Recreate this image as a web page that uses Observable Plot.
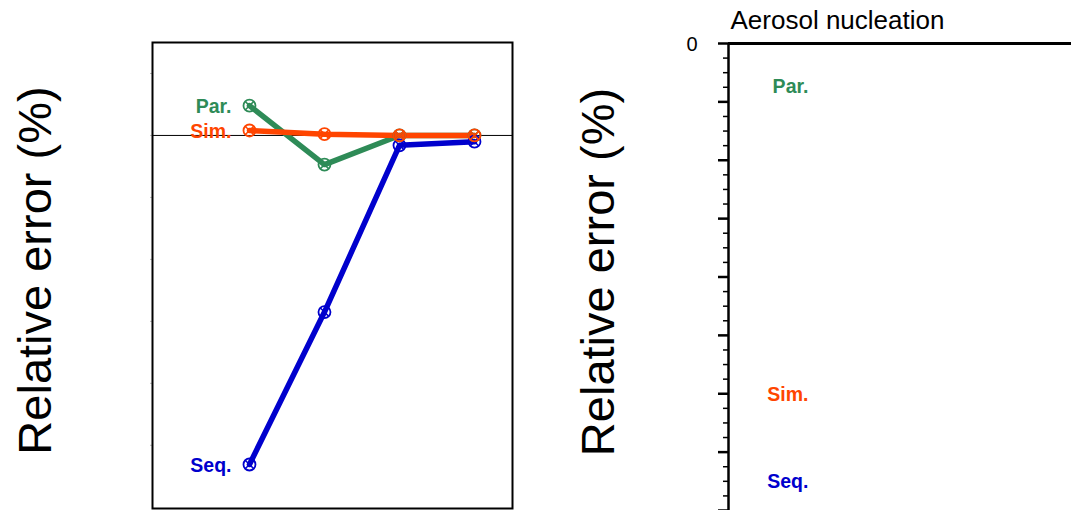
<!DOCTYPE html>
<html>
<head>
<meta charset="utf-8">
<script src="https://cdn.jsdelivr.net/npm/d3@7"></script>
<script src="https://cdn.jsdelivr.net/npm/@observablehq/plot@0.6"></script>
<style>
  html, body { margin: 0; padding: 0; background: #fff; overflow: hidden; }
  #wrap { display: flex; width: 1071px; height: 510px; }
  svg { display: block; }
</style>
</head>
<body>
<div id="wrap"></div>
<script>
// ---- data ----
const seriesNames = ["Par.", "Seq.", "Sim."];
const seriesColors = ["#2e8b57", "#0000cd", "#ff4500"];
const xSteps = [1, 2, 3, 4];
const parValues = [0.48, -0.47, 0.0, 0.0];
const seqValues = [-5.31, -2.85, -0.16, -0.1];
const simValues = [0.08, 0.02, 0.0, 0.0];
const leftTicks = [1, 0, -1, -2, -3, -4, -5];

const rightMajorTicks = [0, -1, -2, -3, -4, -5, -6, -7, -8];
const rightMinorTicks = d3.range(-8, 0.001, 0.25).filter(v => !Number.isInteger(v));
const rightTickLabels = [{y: 0, label: "0"}];
const rightLabelX = [0.233, 0.233, 0.233];
const rightLabelY = [-0.74, -7.5, -6.01];
const titleText = "Aerosol nucleation";
const yLabel = "Relative error (%)";

const font = "'Liberation Sans', Arial, Helvetica, sans-serif";
const allValues = [parValues, seqValues, simValues];

const rows = [];
seriesNames.forEach((s, i) => {
  xSteps.forEach((x, j) => rows.push({series: s, x, y: allValues[i][j], color: seriesColors[i]}));
});
const firstRows = rows.filter(d => d.x === xSteps[0]);

// ---- left panel ----
const lineMarks = seriesNames.map((s, i) =>
  Plot.line(rows.filter(d => d.series === s), {x: "x", y: "y", stroke: seriesColors[i], strokeWidth: 5.5}));
const dotMarks = seriesNames.flatMap((s, i) => {
  const r = rows.filter(d => d.series === s);
  return [
    Plot.dot(r, {x: "x", y: "y", r: 6, stroke: seriesColors[i], strokeWidth: 1.8, fill: "none"}),
    Plot.dot(r, {x: "x", y: "y", r: 4, symbol: "times", stroke: seriesColors[i], strokeWidth: 1.5})
  ];
});

const left = Plot.plot({
  width: 540, height: 510,
  marginLeft: 152, marginRight: 28, marginTop: 42, marginBottom: 2,
  style: {fontFamily: font, background: "transparent", overflow: "visible"},
  x: {domain: [-0.293, 4.507], axis: null},
  y: {domain: [-6.02, 1.5], axis: null},
  marks: [
    Plot.axisY({ticks: leftTicks, tickSize: 2, tickFormat: () => "", stroke: "#bbb", label: null}),
    Plot.ruleY([0], {stroke: "black", strokeWidth: 1}),
    ...lineMarks,
    ...dotMarks,
    Plot.text(firstRows, {x: "x", y: "y", text: "series", fill: "color", dx: -18, dy: 1,
      textAnchor: "end", lineAnchor: "middle", fontSize: 19.5, fontWeight: "bold"}),
    Plot.frame({stroke: "black", strokeWidth: 2}),
    Plot.text([yLabel], {text: d => d, frameAnchor: "left", rotate: -90, dx: -117, dy: -5,
      textAnchor: "middle", lineAnchor: "middle", fontSize: 47, fill: "black"})
  ]
});

// ---- right panel ----
const labelRows = seriesNames.map((s, i) => ({series: s, x: rightLabelX[i], y: rightLabelY[i], color: seriesColors[i]}));

const right = Plot.plot({
  width: 531, height: 510,
  marginLeft: 188, marginRight: 0, marginTop: 43, marginBottom: 0,
  style: {fontFamily: font, background: "transparent", overflow: "visible"},
  x: {domain: [0, 1], axis: null},
  y: {domain: [-8, 0], axis: null},
  marks: [
    Plot.ruleY([0], {stroke: "black", strokeWidth: 3}),
    Plot.axisY({ticks: rightMinorTicks, tickSize: 5, strokeWidth: 1.5, tickFormat: () => "", label: null}),
    Plot.axisY({ticks: rightMajorTicks, tickSize: 10, strokeWidth: 2.5, tickFormat: () => "", label: null}),
    Plot.text(rightTickLabels, {y: "y", text: "label", frameAnchor: "left", dx: -31, dy: 1,
      textAnchor: "end", lineAnchor: "middle", fontSize: 20, fill: "black"}),
    Plot.ruleX([0], {stroke: "black", strokeWidth: 2.5}),
    Plot.text(labelRows, {x: "x", y: "y", text: "series", fill: "color",
      textAnchor: "end", lineAnchor: "middle", fontSize: 19.5, fontWeight: "bold"}),
    Plot.text([titleText], {text: d => d, frameAnchor: "top-left", dx: 2, dy: -23,
      textAnchor: "start", lineAnchor: "middle", fontSize: 26, fill: "black"}),
    Plot.text([yLabel], {text: d => d, frameAnchor: "left", rotate: -90, dx: -130, dy: -5,
      textAnchor: "middle", lineAnchor: "middle", fontSize: 47, fill: "black"})
  ]
});

document.getElementById("wrap").append(left, right);
</script>
</body>
</html>
